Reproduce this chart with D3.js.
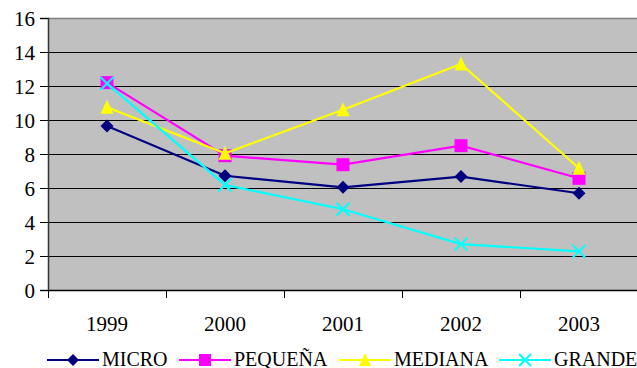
<!DOCTYPE html>
<html><head><meta charset="utf-8">
<script src="https://cdn.jsdelivr.net/npm/d3@7"></script>
</head><body style="margin:0"><svg id="c" width="637" height="368"></svg>
<script>
const categories = ["1999","2000","2001","2002","2003"];
const micro   = [9.65, 6.72, 6.04, 6.67, 5.69];
const pequena = [12.2, 7.9, 7.37, 8.49, 6.57];
const mediana = [10.75, 8.04, 10.6, 13.3, 7.16];
const grande  = [12.15, 6.18, 4.75, 2.7, 2.27];
const yTicks = [0,2,4,6,8,10,12,14,16];
const seriesNames = ["MICRO","PEQUEÑA","MEDIANA","GRANDE"];
const seriesColors = ["#000080","#FF00FF","#FFFF00","#00FFFF"];
const seriesMarkers = ["diamond","square","triangle","x"];
const seriesValues = [micro, pequena, mediana, grande];

const FONT = "Liberation Serif";
const svg = d3.select("#c").style("display","block");
const L = 48, R = 638, T = 18, B = 290;
const x = d3.scaleBand().domain(categories).range([L, R]);
const y = d3.scaleLinear().domain([0,16]).range([B, T]);

svg.append("rect").attr("x",L).attr("y",T).attr("width",R-L).attr("height",B-T).attr("fill","#C0C0C0");
svg.append("g").selectAll("line").data(yTicks.filter(d=>d>0 && d<16)).join("line")
  .attr("x1",L).attr("x2",R).attr("y1",d=>y(d)+0.5).attr("y2",d=>y(d)+0.5)
  .attr("stroke","#000").attr("stroke-width",1);
svg.append("line").attr("x1",L).attr("x2",R).attr("y1",T+0.5).attr("y2",T+0.5).attr("stroke","#808080").attr("stroke-width",1.5);

const ya = svg.append("g").attr("transform",`translate(${L},0)`)
  .call(d3.axisLeft(y).tickValues(yTicks).tickSize(8).tickFormat(""));
ya.select(".domain").attr("stroke","#333").attr("stroke-width",1.5);
ya.selectAll(".tick line").attr("stroke","#000");
svg.append("g").selectAll("text").data(yTicks).join("text")
  .attr("x", L-13).attr("y", d=>y(d)+8).attr("text-anchor","end")
  .attr("font-family",FONT).attr("font-size",21).attr("fill","#000").text(d=>d);

const xa = svg.append("g").attr("transform",`translate(0,${B})`)
  .call(d3.axisBottom(x).tickSize(0).tickFormat(""));
xa.select(".domain").attr("stroke","#000").attr("stroke-width",1.5);
svg.append("g").selectAll("text").data(categories).join("text")
  .attr("x", d=>x(d)+x.bandwidth()/2).attr("y", B+41).attr("text-anchor","middle")
  .attr("font-family",FONT).attr("font-size",21).attr("fill","#000").text(d=>d);
svg.append("g").selectAll("line").data(categories).join("line")
  .attr("x1",d=>Math.round(x(d))+0.5).attr("x2",d=>Math.round(x(d))+0.5)
  .attr("y1",B).attr("y2",B+8).attr("stroke","#000");

function drawMarker(g, type, cx, cy, color, s) {
  if (type==="diamond") {
    g.append("path").attr("d",`M${cx},${cy-s/2}L${cx+s/2},${cy}L${cx},${cy+s/2}L${cx-s/2},${cy}Z`).attr("fill",color);
  } else if (type==="square") {
    g.append("rect").attr("x",cx-s/2).attr("y",cy-s/2).attr("width",s).attr("height",s).attr("fill",color);
  } else if (type==="triangle") {
    g.append("path").attr("d",`M${cx},${cy-s/2-1}L${cx+s/2},${cy+s/2}L${cx-s/2},${cy+s/2}Z`).attr("fill",color);
  } else {
    const h = s/2;
    g.append("path").attr("d",`M${cx-h},${cy-h}L${cx+h},${cy+h}M${cx+h},${cy-h}L${cx-h},${cy+h}`).attr("stroke",color).attr("stroke-width",2).attr("fill","none");
  }
}

const line = d3.line().x((d,i)=>x(categories[i])+x.bandwidth()/2).y(d=>y(d));
seriesValues.forEach((vals, si) => {
  const g = svg.append("g");
  g.append("path").attr("d", line(vals)).attr("fill","none").attr("stroke",seriesColors[si]).attr("stroke-width",2.2);
  vals.forEach((v,i)=> drawMarker(g, seriesMarkers[si], x(categories[i])+x.bandwidth()/2, y(v), seriesColors[si], 13));
});

const legX = [47, 179, 339, 499];
const legY = 360;
seriesNames.forEach((n, si) => {
  const g = svg.append("g");
  g.append("line").attr("x1",legX[si]).attr("x2",legX[si]+52).attr("y1",legY).attr("y2",legY).attr("stroke",seriesColors[si]).attr("stroke-width",2.2);
  drawMarker(g, seriesMarkers[si], legX[si]+26, legY, seriesColors[si], 12);
  g.append("text").attr("x",legX[si]+55).attr("y",legY+6).attr("font-family",FONT).attr("font-size",20).attr("fill","#000").text(n);
});
</script></body></html>
